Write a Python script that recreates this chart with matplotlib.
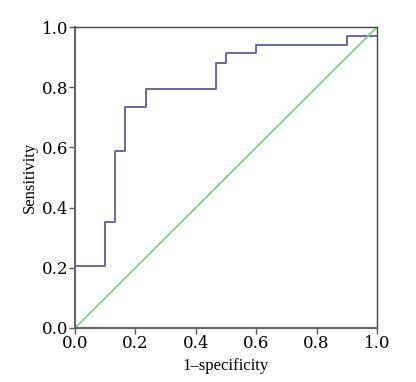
import matplotlib
matplotlib.use("Agg")
import matplotlib.pyplot as plt

fpr = [0.0, 0.0, 0.099, 0.099, 0.132, 0.132, 0.166, 0.166, 0.235, 0.235, 0.467, 0.467, 0.5, 0.5, 0.6, 0.6, 0.9, 0.9, 1.0]
tpr = [0.0, 0.206, 0.206, 0.353, 0.353, 0.588, 0.588, 0.735, 0.735, 0.794, 0.794, 0.882, 0.882, 0.912, 0.912, 0.941, 0.941, 0.971, 0.971]
diag_x = [0.0, 1.0]
diag_y = [0.0, 1.0]
ticks = [0.0, 0.2, 0.4, 0.6, 0.8, 1.0]

plt.rcParams['font.family'] = ['Liberation Serif', 'DejaVu Serif']

fig = plt.figure(figsize=(4.16, 3.82), dpi=100)
ax = fig.add_axes([75/416, 54/382, 302/416, 301/382])
ax.plot(fpr, tpr, color='#6a68a6', lw=1.4)
ax.plot(diag_x, diag_y, color='#7dcb86', lw=1.2)
ax.set_xlim(0, 1)
ax.set_ylim(0, 1)
ax.set_xticks(ticks)
ax.set_yticks(ticks)
ax.set_xticklabels([f"{t:.1f}" for t in ticks], fontsize=12, family='DejaVu Serif')
ax.set_yticklabels([f"{t:.1f}" for t in ticks], fontsize=12, family='DejaVu Serif')
ax.tick_params(direction='out', length=4, width=1, color='#555555', pad=1)
for s in ['left', 'bottom']:
    ax.spines[s].set_color('#666666')
    ax.spines[s].set_linewidth(1.5)
for s in ['top', 'right']:
    ax.spines[s].set_color('#444444')
    ax.spines[s].set_linewidth(1.0)
ax.set_xlabel('1\u2013specificity', fontsize=12, labelpad=4)
ax.set_ylabel('Sensitivity', fontsize=12, labelpad=3)
fig.savefig('out.png', dpi=100)
